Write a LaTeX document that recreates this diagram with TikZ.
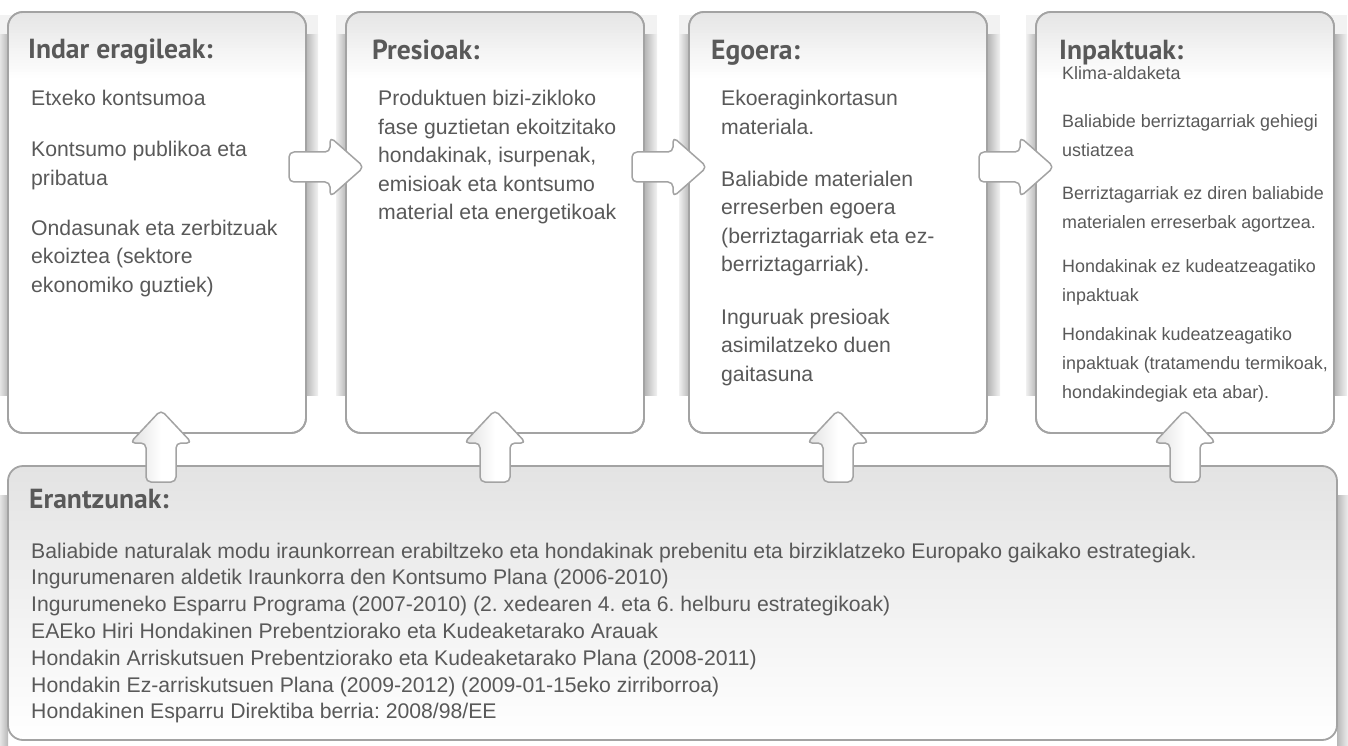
\documentclass[tikz,border=0pt]{standalone}
\usepackage{fontspec}
\setmainfont{Liberation Sans}
\newfontfamily\headfont{PT Sans}
\usetikzlibrary{calc}
\definecolor{txt}{RGB}{89,89,89}
\definecolor{edge}{RGB}{163,163,163}
\newcommand{\mlines}[1]{\begin{tabular}[t]{@{}l@{}}#1\end{tabular}}
\tikzset{
  panel/.style={draw=edge, line width=1.8pt, rounded corners=15pt, fill=white,
    anchor=north west, inner sep=0pt, outer sep=0pt},
  topbox/.style={panel, minimum width=298pt, minimum height=421pt},
  bottombox/.style={panel, minimum width=1329pt, minimum height=274pt,
    path picture={\shade[sharp corners, top color=black!11, bottom color=white]
      (path picture bounding box.north west) rectangle
      (path picture bounding box.south east);}},
  rim/.style={draw=edge, line width=1.8pt, rounded corners=15pt},
  head/.style={anchor=base west, inner sep=0pt, text=txt,
    font=\headfont\bfseries\fontsize{27.6pt}{30pt}\selectfont},
  body/.style={anchor=base west, inner sep=0pt, text=txt,
    font=\fontsize{21.2pt}{28.5pt}\selectfont\frenchspacing},
  bodysm/.style={anchor=base west, inner sep=0pt, text=txt,
    font=\fontsize{17.9pt}{29pt}\selectfont\frenchspacing},
  bottomtext/.style={anchor=base west, inner sep=0pt, text=txt,
    font=\fontsize{21.2pt}{26.8pt}\selectfont\frenchspacing},
  barrow/.style={draw=edge, line width=1.5pt, fill=white, rounded corners=5pt, line join=round},
  uparrow/.style={barrow, left color=black!12, right color=white, middle color=white},
}
\begin{document}
\begin{tikzpicture}[x=1pt,y=-1pt]
\useasboundingbox (0,0) rectangle (1348,746);
% soft shadows behind the panels
\foreach \xa/\xb in {8/306, 346/645, 689/988, 1036/1335} {
  \fill[black!5] (\xa-10,15) rectangle (\xb+12,395);
  \shade[left color=black!6, right color=black!28] (\xa-10,35) rectangle (\xa,395);
  \shade[left color=black!28, right color=black!5] (\xb,35) rectangle (\xb+12,395);
}
\shade[left color=black!6, right color=black!28] (-2,495) rectangle (8,746);
\shade[left color=black!28, right color=black!5] (1337,495) rectangle (1349,746);

% panels
\node[topbox] (b1) at (8,12) {};
\node[topbox] (b2) at (346,12) {};
\node[topbox] (b3) at (689,12) {};
\node[topbox] (b4) at (1036,12) {};
\node[bottombox] (b5) at (8,466) {};

% light gradient at the head of each top panel
\foreach \nb in {b1,b2,b3,b4} {
  \begin{scope}
    \clip[rounded corners=15pt] (\nb.north west) rectangle (\nb.south east);
    \foreach \i in {0,...,21} {
      \pgfmathsetmacro\shadeval{10*(1-\i/22)}
      \fill[black!\shadeval] ($(\nb.north west)+(0,\i*3)$) rectangle ($(\nb.north east)+(0,\i*3+3.4)$);
    }
  \end{scope}
  \draw[rim] (\nb.north west) rectangle (\nb.south east);
}

% box 1
\node[head] (h1) at (28,59) {Indar eragileak:};
\node[body] (t11) at (31,106) {Etxeko kontsumoa};
\node[body] (t12) at (31,157) {\mlines{Kontsumo publikoa eta\\ pribatua}};
\node[body] (t13) at (31,235) {\mlines{Ondasunak eta zerbitzuak\\ ekoiztea (sektore\\ ekonomiko guztiek)}};

% box 2
\node[head] (h2) at (372,60) {Presioak:};
\node[body] (t21) at (378,106) {\mlines{Produktuen bizi-zikloko\\ fase guztietan ekoitzitako\\ hondakinak, isurpenak,\\ emisioak eta kontsumo\\ material eta energetikoak}};

% box 3
\node[head] (h3) at (711,60) {Egoera:};
\node[body] (t31) at (721,106) {\mlines{Ekoeraginkortasun\\ materiala.}};
\node[body] (t32) at (721,186) {\mlines{Baliabide materialen\\ erreserben egoera\\ (berriztagarriak eta ez-\\ berriztagarriak).}};
\node[body] (t33) at (721,324) {\mlines{Inguruak presioak\\ asimilatzeko duen\\ gaitasuna}};

% box 4
\node[head] (h4) at (1059,60) {Inpaktuak:};
\node[bodysm] (t41) at (1062,80) {Klima-aldaketa};
\node[bodysm] (t42) at (1062,128) {\mlines{Baliabide berriztagarriak gehiegi\\ ustiatzea}};
\node[bodysm] (t43) at (1062,199) {\mlines{Berriztagarriak ez diren baliabide\\ materialen erreserbak agortzea.}};
\node[bodysm] (t44) at (1062,272) {\mlines{Hondakinak ez kudeatzeagatiko\\ inpaktuak}};
\node[bodysm] (t45) at (1062,340) {\mlines{Hondakinak kudeatzeagatiko\\ inpaktuak (tratamendu termikoak,\\ hondakindegiak eta abar).}};

% bottom box
\node[head] (h5) at (29,508) {Erantzunak:};
\node[bottomtext] (t51) at (31,558) {\mlines{Baliabide naturalak modu iraunkorrean erabiltzeko eta hondakinak prebenitu eta birziklatzeko Europako gaikako estrategiak.\\
Ingurumenaren aldetik Iraunkorra den Kontsumo Plana (2006-2010)\\
Ingurumeneko Esparru Programa (2007-2010) (2. xedearen 4. eta 6. helburu estrategikoak)\\
EAEko Hiri Hondakinen Prebentziorako eta Kudeaketarako Arauak\\
Hondakin Arriskutsuen Prebentziorako eta Kudeaketarako Plana (2008-2011)\\
Hondakin Ez-arriskutsuen Plana (2009-2012) (2009-01-15eko zirriborroa)\\
Hondakinen Esparru Direktiba berria: 2008/98/EE}};

% right arrows between panels
\foreach \nb in {b2,b3,b4} {
  \draw[barrow] ($(\nb.north west)+(18,155)$) -- ++(-34,-30) -- ++(0,15) -- ++(-41,0)
    -- ++(0,30) -- ++(41,0) -- ++(0,15) -- cycle;
}
% up arrows from the bottom panel to each panel
\foreach \nb/\dx in {b1/4,b2/0,b3/0,b4/0} {
  \draw[uparrow] ($(\nb.south)+(\dx,-23)$) -- ++(31,33) -- ++(-16,0) -- ++(0,39)
    -- ++(-30,0) -- ++(0,-39) -- ++(-16,0) -- cycle;
}
\end{tikzpicture}
\end{document}
